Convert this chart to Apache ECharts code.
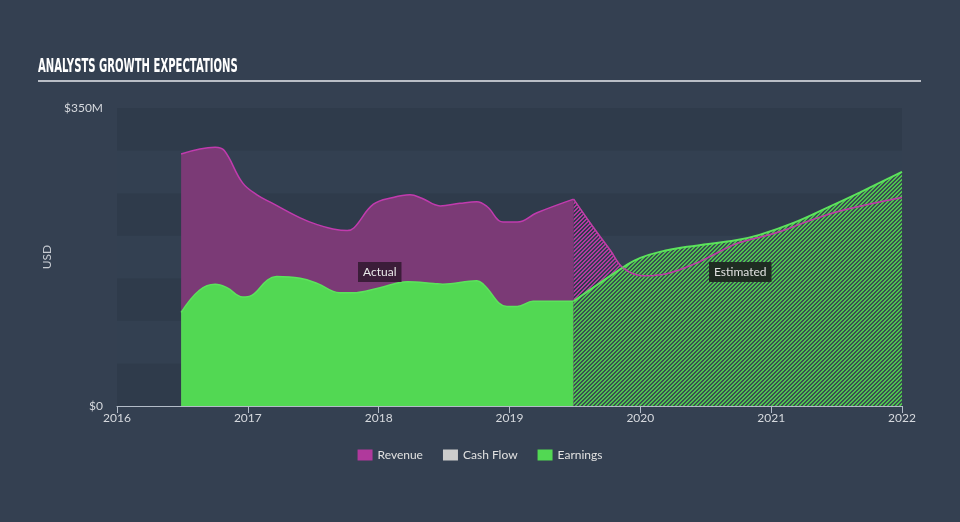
<!DOCTYPE html>
<html><head><meta charset="utf-8">
<script src="https://cdn.jsdelivr.net/npm/echarts@6/dist/echarts.min.js"></script>
<style>html,body{margin:0;padding:0;background:#344051;}#c{width:960px;height:522px;}</style>
</head><body><div id="c"></div>
<script>
const revenueActual = [[2016.49,296],[2016.75,304],[2016.82,300],[2016.96,262],[2017.07,248],[2017.19,238],[2017.40,221],[2017.53,213],[2017.65,208],[2017.76,206],[2017.81,209],[2017.96,237],[2018.11,245],[2018.24,248],[2018.33,244],[2018.47,235],[2018.62,238],[2018.75,240],[2018.83,234],[2018.95,216],[2019.06,216],[2019.21,227],[2019.49,243]];
const revenueEstimate = [[2019.49,243],[2019.64,210],[2019.77,183],[2019.87,162],[2020.02,153],[2020.15,154],[2020.40,166],[2020.59,180],[2020.74,191],[2021.05,204],[2021.30,218],[2021.55,230],[2022.0,245]];
const earningsActual = [[2016.49,110],[2016.63,136],[2016.75,143],[2016.84,139],[2016.96,128],[2017.03,130],[2017.15,148],[2017.22,152],[2017.40,150],[2017.53,144],[2017.70,133],[2017.80,133],[2018.01,139],[2018.22,146],[2018.42,144],[2018.49,143],[2018.75,147],[2018.80,143],[2018.98,117],[2019.06,117],[2019.18,123],[2019.49,123]];
const earningsEstimate = [[2019.49,123],[2019.90,166],[2020.0,174],[2020.15,181],[2020.36,187],[2020.74,195],[2020.91,201],[2021.17,215],[2021.43,233],[2021.68,251],[2022.0,275]];
const cashFlow = [];
const legendNames = ['Revenue','Cash Flow','Earnings'];
const yTickLabels = {0:'$0',350:'$350M'};

function hatch(rgbLine, rgbBg){
  const n = 4;
  const c = document.createElement('canvas'); c.width = n; c.height = n;
  const g = c.getContext('2d');
  const img = g.createImageData(n, n);
  for (let y = 0; y < n; y++) for (let x = 0; x < n; x++) {
    const on = ((x + y) % n) < 2;
    const col = on ? rgbLine : rgbBg;
    const i = (y * n + x) * 4;
    img.data[i] = col[0]; img.data[i+1] = col[1]; img.data[i+2] = col[2]; img.data[i+3] = col[3];
  }
  g.putImageData(img, 0, 0);
  return {image:c, repeat:'repeat'};
}

const chart = echarts.init(document.getElementById('c'));
chart.setOption({
  backgroundColor:'#344051',
  animation:false,
  grid:{left:117,right:58,top:108,bottom:116},
  graphic:[
    {type:'text',left:38,top:58,scaleX:0.53,style:{text:'ANALYSTS GROWTH EXPECTATIONS',fill:'#ffffff',font:'bold 19px "DejaVu Sans", sans-serif'}},
    {type:'rect',shape:{x:38,y:80,width:883,height:2},style:{fill:'#b9bec6'}},
    {type:'text',left:358,top:262,z:100,style:{text:'Actual',fill:'#e8e8e8',font:'12px Lato, sans-serif',backgroundColor:'#3b1d39',padding:[4,5,4,5]}},
    {type:'text',left:709,top:262,z:100,style:{text:'Estimated',fill:'#e0e0e0',font:'12px Lato, sans-serif',backgroundColor:'#1f2c22',padding:[4,5,4,5]}}
  ],
  legend:{
    bottom:56,left:'center',itemWidth:15,itemHeight:11,itemGap:20,icon:'rect',
    data:legendNames,
    textStyle:{color:'#e0e0e0',fontSize:12,fontFamily:'Lato, sans-serif'}
  },
  xAxis:{
    type:'value',min:2016,max:2022,interval:1,
    axisLine:{lineStyle:{color:'#b3bcc8',width:1}},
    axisTick:{show:true,length:7,lineStyle:{color:'#b3bcc8'}},
    axisLabel:{color:'#d6d9de',fontSize:12,fontFamily:'Lato, sans-serif',margin:6,formatter:v=>String(v)},
    splitLine:{show:false}
  },
  yAxis:{
    type:'value',min:0,max:350,interval:50,
    name:'USD',nameLocation:'middle',nameGap:28,nameRotate:90,
    nameTextStyle:{color:'#c8ccd2',fontSize:12,fontFamily:'Lato, sans-serif'},
    axisLine:{show:false},axisTick:{show:false},
    axisLabel:{color:'#d6d9de',fontSize:12,fontFamily:'Lato, sans-serif',margin:14,
      formatter:v=>yTickLabels[v]||''},
    splitLine:{show:false},
    splitArea:{show:true,areaStyle:{color:['#2f3b4b','#334051']}}
  },
  series:[
    {name:'Revenue',type:'line',data:revenueActual,smooth:0.4,symbol:'none',
     itemStyle:{color:'#b0399c'},
     lineStyle:{color:'#c13bae',width:1.5},
     areaStyle:{color:'#7b3a76',opacity:1}},
    {name:'Cash Flow',type:'line',data:cashFlow,symbol:'none',itemStyle:{color:'#cccccc'}},
    {name:'Earnings',type:'line',data:earningsActual,smooth:0.4,symbol:'none',
     itemStyle:{color:'#52d853'},
     lineStyle:{color:'#5ce35c',width:1.5},
     areaStyle:{color:'#52d853',opacity:1}},
    {name:'Revenue',type:'line',data:revenueEstimate,smooth:0.4,symbol:'none',
     itemStyle:{color:'#b0399c'},
     lineStyle:{color:'#b8379f',width:1.5},
     areaStyle:{color:hatch([178,56,160,255],[0,0,0,0]),opacity:1}},
    {name:'Earnings',type:'line',data:earningsEstimate,smooth:0.4,symbol:'none',
     itemStyle:{color:'#52d853'},
     lineStyle:{color:'#5ce35c',width:2},
     areaStyle:{color:hatch([78,196,78,255],[58,78,82,255]),opacity:1}},
    {name:'Revenue',type:'line',data:revenueEstimate,smooth:0.4,symbol:'none',
     itemStyle:{color:'#b0399c'},
     lineStyle:{color:'rgba(190,70,170,0.7)',width:1.2}}
  ]
});
</script></body></html>
